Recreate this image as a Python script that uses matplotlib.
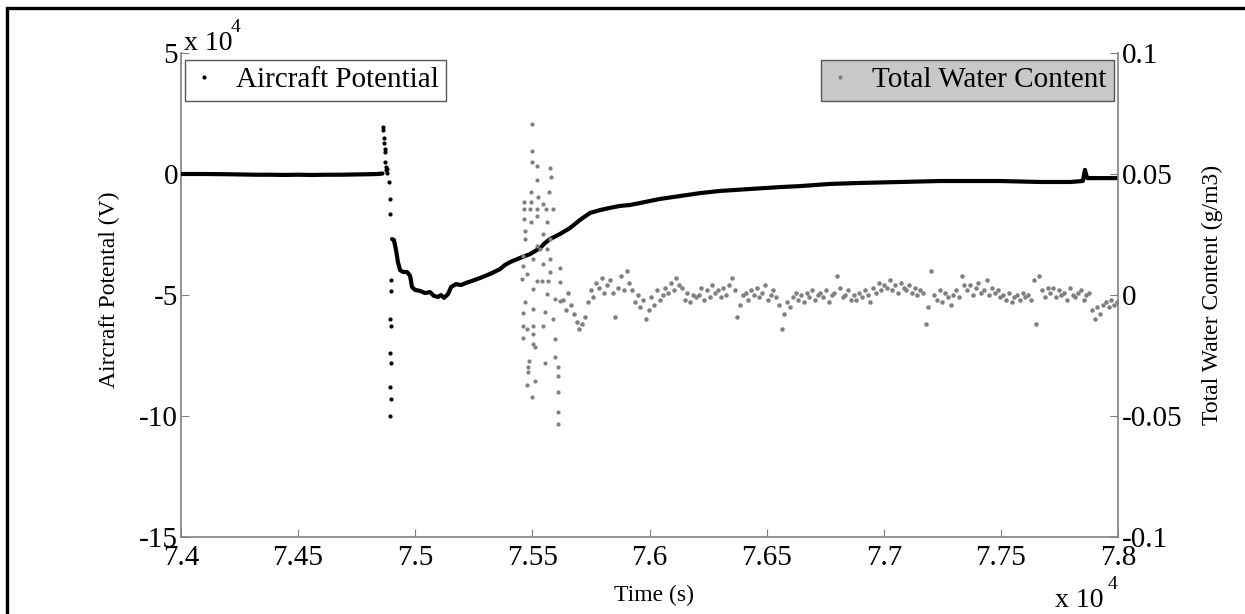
import numpy as np
import matplotlib
matplotlib.use("Agg")
import matplotlib.pyplot as plt
from matplotlib.patches import Rectangle
from matplotlib.ticker import FuncFormatter

plt.rcParams['font.family'] = ['Liberation Serif', 'DejaVu Serif']

# -----------------------------
# Datos
# -----------------------------
# Potencial del avion (unidades de 1e4 V), tramo plano antes del evento
flat_t = [74000, 74100, 74200, 74260, 74320, 74380, 74440, 74500, 74560,
          74620, 74680, 74740, 74800, 74840, 74860]
flat_v = [0.0, 0.0, -0.01, -0.02, -0.03, -0.03, -0.04, -0.03, -0.04,
          -0.03, -0.03, -0.02, -0.01, 0.0, 0.02]

# puntos aislados del pico / caida
spike_t = [74862, 74864, 74866, 74867, 74869, 74870, 74872, 74874, 74876, 74878, 74880,
           74890, 74891, 74892, 74896, 74898, 74892, 74897, 74893, 74897, 74894, 74896, 74893]
spike_v = [1.95, 1.8, 1.5, 1.3, 1.05, 0.9, 0.5, 0.3, 0.15, 0.2, 0.05,
           -0.35, -1.05, -1.65, -4.4, -4.85, -6.0, -6.3, -7.4, -7.8, -8.8, -9.3, -10.0]

# recuperacion despues de la caida
rec_t = [74901, 74909, 74918, 74926, 74935, 74948, 74965, 74978, 74986, 74999,
         75020, 75042, 75063, 75080, 75097, 75110, 75123, 75140, 75153, 75174,
         75195, 75217, 75242, 75276, 75319, 75362, 75383, 75405, 75447, 75490,
         75533, 75554, 75575, 75618, 75661, 75703, 75746, 75789, 75831, 75874,
         75917, 75959, 76045, 76130, 76216, 76301, 76429, 76557, 76643, 76771,
         76899, 77070, 77240, 77411, 77496, 77667, 77795, 77850, 77859, 77868,
         77923, 78000]
rec_v = [-2.69, -2.73, -3.14, -3.64, -3.97, -4.05, -4.05, -4.21, -4.67, -4.79,
         -4.83, -4.92, -4.88, -5.04, -5.08, -5.00, -5.12, -4.96, -4.67, -4.55,
         -4.59, -4.50, -4.42, -4.30, -4.13, -3.93, -3.76, -3.64, -3.47, -3.31,
         -3.06, -2.85, -2.69, -2.48, -2.23, -1.90, -1.61, -1.49, -1.40, -1.32,
         -1.28, -1.20, -1.03, -0.91, -0.79, -0.70, -0.62, -0.54, -0.50, -0.41,
         -0.37, -0.33, -0.29, -0.29, -0.29, -0.33, -0.33, -0.29, 0.17, -0.17,
         -0.17, -0.17]

# Contenido total de agua (g/m3): rafaga dispersa
burst_t = [75498, 75498, 75498, 75520, 75520, 75575, 75580, 75494, 75524, 75571,
           75464, 75494, 75545, 75464, 75490, 75520, 75558, 75588, 75520, 75464,
           75494, 75562, 75469, 75469, 75545, 75575, 75520, 75533, 75562, 75460,
           75503, 75575, 75460, 75545, 75477, 75575, 75456, 75618, 75520, 75541,
           75567, 75503, 75618, 75562, 75597, 75469, 75618, 75460, 75503, 75554,
           75588, 75460, 75503, 75545, 75477, 75460, 75503, 75503, 75597, 75511,
           75486, 75554, 75597, 75481, 75609, 75481, 75609, 75477, 75511, 75498,
           75609, 75609, 75609]
burst_v = [0.0707, 0.0595, 0.055, 0.0533, 0.0475, 0.0525, 0.0488, 0.0426, 0.0405, 0.0426,
           0.0384, 0.0384, 0.0376, 0.0355, 0.0355, 0.0355, 0.0355, 0.0355, 0.0326, 0.0314,
           0.0302, 0.0302, 0.0264, 0.0231, 0.0252, 0.0231, 0.0202, 0.019, 0.019, 0.0161,
           0.0149, 0.0149, 0.012, 0.0128, 0.0087, 0.0095, 0.0066, 0.0112, 0.0058, 0.0058,
           0.0058, 0.0025, 0.0054, 0.0004, -0.0017, -0.0029, -0.0025, -0.0074, -0.0058, -0.007,
           -0.0099, -0.0128, -0.0128, -0.0128, -0.014, -0.0178, -0.0161, -0.0202, -0.0182, -0.0215,
           -0.0273, -0.0281, -0.0256, -0.0298, -0.0298, -0.0318, -0.0335, -0.0372, -0.0355, -0.0421,
           -0.0401, -0.0484, -0.0533]

# ruido posterior (unidades de 1e-3 g/m3), muestreado de 75630 a 77995 s
noise_milli = [-2, -6, 1, -4, -8,
               -11, -14, -12, -9, -3,
               2, -1, 5, 3, 7, 1,
               4, 6, 1, -9, 3, 8, 2, 10, 5,
               2, -3, 0, -5, -2, -10, -6,
               -1, -4, 2, -2, 0,
               3, 1, 5, 2, 7, 4, 3,
               -2, 1, -3, 0, -1,
               0, 3, -2, 2, -1, 4, 1,
               2, -1, 3, 0, 4, 7, 2,
               -9, -4, 0,
               1, -2, 2, 0, 3, -1, 1, 4, -2, 0, 2, -1,
               -4, -14, -8, -3, -5,
               -1, 1, -2, 0, -3, 1, -1, 2, -2, 0, 1, -1, 2, -3, 0, 1,
               8, 3, -1, 0, 2, -2,
               0, -2, 1, -1, 2, 0, -3,
               3, 1, 5, 2, 4, 3, 6, 2, 4, 1, 5, 3, 2, 4, 1, 3, 0, 2, 1,
               -12, -5, 10,
               0, -2, 2, -3, 1, -1, -4, 0, 2, -1,
               8, 4,
               2, 4, 0, 3, 5, 1, 2, 6, 0, 3, 1, 2,
               -1, 0, -2, 1, -3, -1, 0, -2, 1, -1, 0, -2,
               6, -12, 8, 2, -1, 3,
               1, 3, -1, 2, 0, 1, -2, 3, 0, -1, 1, 2, -2, 0, 1,
               -6, -10, -5, -8, -4,
               -3, -5, -2, -4, -3]
noise_t = np.linspace(75630, 77995, len(noise_milli))
noise_v = np.array(noise_milli) / 1000.0

x_ticks = [74000, 74500, 75000, 75500, 76000, 76500, 77000, 77500, 78000]
y1_ticks = [-15, -10, -5, 0, 5]
y2_ticks = [-0.1, -0.05, 0, 0.05, 0.1]
y2_labels = ['-0.1', '-0.05', '0', '0.05', '0.1']

GRIS = '#808080'

# -----------------------------
# Figura
# -----------------------------
fig = plt.figure(figsize=(12.45, 6.14), dpi=100)
ax = fig.add_axes([181 / 1245, 1 - 537 / 614, 937 / 1245, 484 / 614])
ax2 = ax.twinx()

ax.plot(flat_t, flat_v, color='black', lw=3.0, solid_capstyle='round', zorder=3)
ax.plot(rec_t, rec_v, color='black', lw=3.0, solid_capstyle='round', zorder=3)
ax.plot(spike_t, spike_v, linestyle='none', marker='.', color='black', markersize=4,
        label='Aircraft Potential', zorder=3)

ax2.plot(burst_t, burst_v, linestyle='none', marker='.', color=GRIS, markersize=4,
         label='Total Water Content')
ax2.plot(noise_t, noise_v, linestyle='none', marker='.', color=GRIS, markersize=4.5)

ax.set_xlim(74000, 78000)
ax.set_ylim(-15, 5)
ax2.set_ylim(-0.1, 0.1)
ax.set_xticks(x_ticks)
ax.set_yticks(y1_ticks)
ax2.set_yticks(y2_ticks)
ax2.set_yticklabels(y2_labels)
ax.xaxis.set_major_formatter(FuncFormatter(lambda v, _: f"{v / 1e4:g}"))
ax.yaxis.set_major_formatter(FuncFormatter(lambda v, _: f"{v:g}"))

for a in (ax, ax2):
    a.spines['top'].set_visible(False)
    for s in a.spines.values():
        s.set_color(GRIS)
        s.set_linewidth(1.2)
ax.spines['right'].set_visible(False)
ax2.spines['left'].set_visible(False)
ax2.spines['bottom'].set_visible(False)

ax.tick_params(axis='x', direction='in', length=6, color=GRIS, labelsize=21, pad=6)
ax.tick_params(axis='y', direction='in', length=6, color=GRIS, labelsize=21, pad=2)
ax2.tick_params(axis='y', direction='in', length=6, color=GRIS, labelsize=21, pad=3)

ax.set_xlabel('Time (s)', fontsize=17)
ax.set_ylabel('Aircraft Potental (V)', fontsize=17)
ax2.set_ylabel('Total Water Content (g/m3)', fontsize=17)
ax.xaxis.set_label_coords((654 - 181) / 937, -(585 - 537) / 484)
ax.yaxis.set_label_coords(-(181 - 120) / 937, 0.51)
ax2.yaxis.set_label_coords((1202 - 181) / 937, 0.5)

leg1 = ax.legend(loc='upper left', bbox_to_anchor=(0.004, 0.986), borderaxespad=0,
                 fontsize=21, fancybox=False, edgecolor='#555555', framealpha=1,
                 handlelength=0.8, handletextpad=0.7, borderpad=0.25)
leg1.get_frame().set_linewidth(1.0)
leg2 = ax2.legend(loc='upper right', bbox_to_anchor=(0.9957, 0.986), borderaxespad=0,
                  fontsize=21, fancybox=False, edgecolor='#555555', framealpha=1,
                  facecolor='#c8c8c8', handlelength=0.8, handletextpad=0.7, borderpad=0.25)
leg2.get_frame().set_linewidth(1.0)

# multiplicadores x 10^4
fig.text(184 / 1245, 1 - 50 / 614, 'x 10', fontsize=20, ha='left', va='baseline')
fig.text(231 / 1245, 1 - 32 / 614, '4', fontsize=14, ha='left', va='baseline')
fig.text(1055 / 1245, 1 - 607 / 614, 'x 10', fontsize=20, ha='left', va='baseline')
fig.text(1108 / 1245, 1 - 589 / 614, '4', fontsize=14, ha='left', va='baseline')

# marco negro de la figura
fig.patches.append(Rectangle((7 / 1245, -0.1), 1.2, 1.1 - 8.5 / 614, transform=fig.transFigure,
                             fill=False, lw=2.4, ec='black'))

fig.savefig('out.png', dpi=100)
